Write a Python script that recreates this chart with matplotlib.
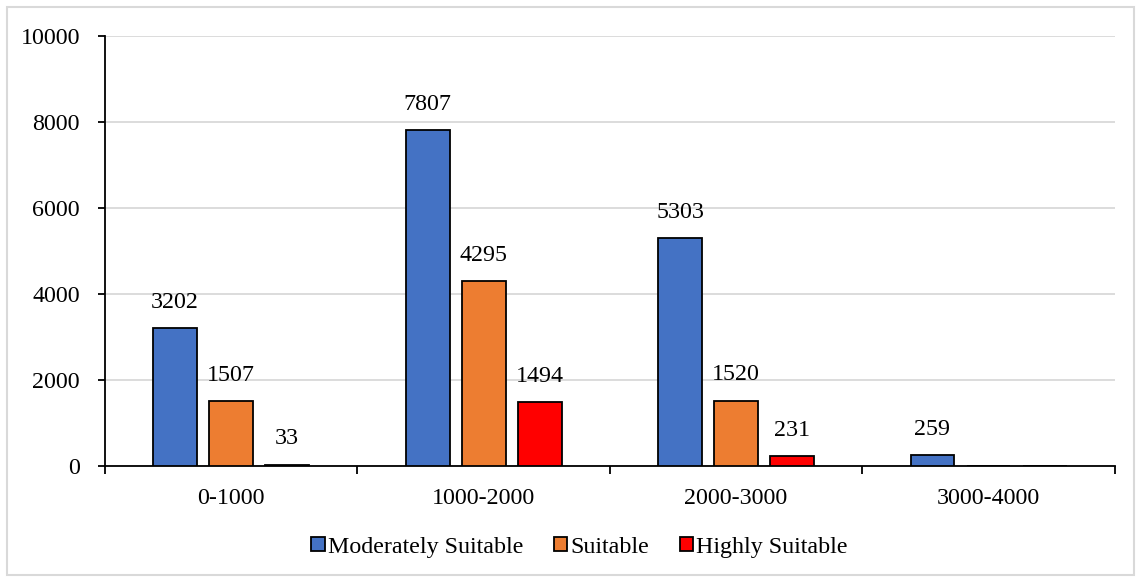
import numpy as np
import matplotlib.pyplot as plt
from matplotlib.patches import Rectangle

plt.rcParams['font.family'] = ['Liberation Serif', 'DejaVu Serif']

categories = ['0-1000', '1000-2000', '2000-3000', '3000-4000']
moderately = [3202, 7807, 5303, 259]
suitable = [1507, 4295, 1520, 0]
highly = [33, 1494, 231, 0]

series = [
    ('Moderately Suitable', moderately, '#4472C4'),
    ('Suitable', suitable, '#ED7D31'),
    ('Highly Suitable', highly, '#FF0000'),
]

fs = 17.3

fig = plt.figure(figsize=(11.41, 5.79), dpi=100)
ax = fig.add_axes([0.092, 0.195, 0.885, 0.743])

x = np.arange(len(categories))
width = 0.174
step = 0.222
for i, (name, vals, color) in enumerate(series):
    bars = ax.bar(x + (i - 1) * step, vals, width, color=color,
                  edgecolor='black', linewidth=1.3, label=name, zorder=3)
    labels = [str(v) if v > 0 else '' for v in vals]
    ax.bar_label(bars, labels=labels, padding=11, fontsize=fs)

ax.set_xlim(-0.5, len(categories) - 0.5)
ax.set_ylim(0, 10000)
ax.set_yticks(np.arange(0, 10001, 2000))
ax.set_xticks(x)
ax.set_xticklabels(categories)
ax.set_xticks(np.arange(-0.5, len(categories), 1), minor=True)

ax.tick_params(axis='x', which='major', length=0, pad=16, labelsize=fs)
ax.tick_params(axis='x', which='minor', length=6, width=1.3, direction='out')
ax.tick_params(axis='y', length=5, width=1.3, pad=13, labelsize=fs)

ax.grid(axis='y', color='#d9d9d9', linewidth=1.3, zorder=0)
ax.set_axisbelow(True)
for side in ['top', 'right']:
    ax.spines[side].set_visible(False)
ax.spines['left'].set_linewidth(1.3)
ax.spines['bottom'].set_linewidth(1.3)

fig.legend(loc='center', bbox_to_anchor=(0.508, 0.055), ncol=3, frameon=False,
           fontsize=fs, handlelength=0.55, handleheight=0.55,
           handletextpad=0.12, columnspacing=1.3)

# thin frame around the whole figure
fig.patches.append(Rectangle((0.006, 0.007), 0.988, 0.981, transform=fig.transFigure,
                             fill=False, edgecolor='#d9d9d9', linewidth=1.5))

fig.savefig('out.png', dpi=100)
